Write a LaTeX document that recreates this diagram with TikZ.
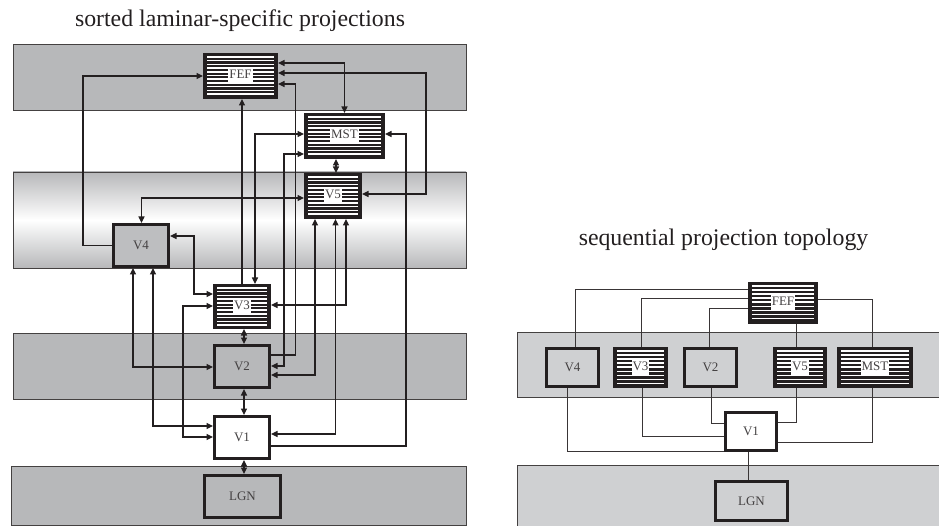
\documentclass[tikz,border=0pt]{standalone}
\usepackage{fontspec}
\setmainfont{Liberation Serif}
\usetikzlibrary{arrows.meta,calc}
\definecolor{bandL}{HTML}{B7B8BA}
\definecolor{bandR}{HTML}{CFD0D2}
\definecolor{boxL}{HTML}{BDBEC0}
\definecolor{ink}{HTML}{231F20}
\newcommand{\whitelab}[1]{{\setlength{\fboxsep}{1pt}\colorbox{white}{\strut #1}}}
\begin{document}
\begin{tikzpicture}[x=1pt,y=-1pt,
  band/.style={draw=ink!85, line width=0.9pt},
  area/.style={rectangle, draw=ink, line width=3pt, inner sep=0pt,
    font=\fontsize{13}{14}\selectfont, text=ink!85},
  areaR/.style={area, line width=2.6pt},
  striped/.style 2 args={fill=ink, path picture={
    \foreach \k in {0,...,#1} {
      \draw[white, line width=1.5pt]
        ([xshift=2.5pt, yshift=-2.5pt-\k*#2pt]path picture bounding box.north west) --
        ([xshift=-2.5pt, yshift=-2.5pt-\k*#2pt]path picture bounding box.north east);
    }}},
  conn/.style={draw=ink, line width=1.1pt},
  arr/.style={conn, -{Triangle[length=6.5pt,width=6pt]}},
  darr/.style={conn, {Triangle[length=6.5pt,width=6pt]}-{Triangle[length=6.5pt,width=6pt]}},
  connR/.style={draw=ink!90, line width=0.9pt},
  title/.style={font=\fontsize{23.8}{26}\selectfont, text=ink, anchor=base, inner sep=0pt},
]
\useasboundingbox (0,0) rectangle (939,526);
\fill[white] (0,0) rectangle (939,526);

% ---------- titles
\node[title] (t1) at (240,27) {sorted laminar-specific projections};
\node[title] (t2) at (723.5,246) {sequential projection topology};

% ---------- left bands
\draw[band, fill=bandL] (13,44) rectangle (466,110);
\shade[top color=bandL, bottom color=bandL, middle color=white] (13,172) rectangle (466,268);
\draw[band] (13,172) rectangle (466,268);
\draw[band, fill=bandL] (13,333) rectangle (466,399);
\draw[band, fill=bandL] (11,466) rectangle (466,525);

% ---------- right bands
\fill[bandR] (517,332) rectangle (939,397);
\draw[band] (939,332) -- (517,332) -- (517,397) -- (939,397);
\fill[bandR] (517,465) rectangle (939,526);
\draw[band] (939,465) -- (517,465) -- (517,526);

% ---------- left nodes
\node[area, striped={10}{3.7}, minimum width=72pt, minimum height=43pt] (fef) at (240.5,76) {\whitelab{FEF}};
\node[area, striped={10}{3.7}, minimum width=78pt, minimum height=43pt] (mst) at (344.5,136) {\whitelab{MST}};
\node[area, striped={10}{3.7}, minimum width=55pt, minimum height=43pt] (v5) at (333,196) {\whitelab{V5}};
\node[area, fill=boxL, minimum width=55pt, minimum height=42pt] (v4) at (141,245.5) {V4};
\node[area, striped={10}{3.7}, minimum width=55pt, minimum height=42pt] (v3) at (242,306.5) {\whitelab{V3}};
\node[area, fill=bandL, minimum width=55pt, minimum height=42pt] (v2) at (242,366.5) {V2};
\node[area, fill=white, minimum width=55pt, minimum height=42pt] (v1) at (242,437.5) {V1};
\node[area, fill=bandL, minimum width=76pt, minimum height=42pt] (lgn) at (242.5,496.5) {LGN};

% ---------- left connectors
\draw[arr] (v4.west) -- (83,245.5) |- (fef.west);
\draw[darr] (fef.east |- 0,63) -| (mst.north);
\draw[darr] (fef.east |- 0,73) -- (426,73) |- (v5.east |- 0,194);
\draw[arr] (v2.east |- 0,355) -- (295.5,355) |- (fef.east |- 0,84);
\draw[arr] (v3.north) -- (fef.south -| v3.north);
\draw[darr] (mst.west |- 0,134) -| (v3.north -| 255,0);
\draw[darr] (mst.west |- 0,154) -| (284,366) -- (v2.east |- 0,366);
\draw[arr] (v1.east |- 0,446) -| (406,134) -- (mst.east |- 0,134);
\draw[darr] (mst.south -| 336,0) -- (v5.north -| 336,0);
\draw[darr] (v5.west |- 0,198) -| (v4.north -| 141.5,0);
\draw[darr] (v2.east |- 0,375) -| (v5.south -| 315,0);
\draw[darr] (v1.east |- 0,434) -| (v5.south -| 335.5,0);
\draw[darr] (v3.east |- 0,305) -| (v5.south -| 346,0);
\draw[darr] (v4.east |- 0,236) -- (194,236) |- (v3.west |- 0,294);
\draw[darr] (v4.south -| 133,0) |- (v2.west |- 0,367);
\draw[darr] (v4.south -| 153,0) |- (v1.west |- 0,426);
\draw[darr] (v3.west |- 0,306) -- (183,306) |- (v1.west |- 0,437);
\draw[darr] (v3.south -| 244,0) -- (v2.north -| 244,0);
\draw[darr] (v2.south -| 244,0) -- (v1.north -| 244,0);
\draw[darr] (v1.south -| 244,0) -- (lgn.north -| 244,0);

% ---------- right nodes
\node[areaR, striped={8}{4.1}, minimum width=67.4pt, minimum height=39.4pt] (rfef) at (783,303) {\whitelab{FEF}};
\node[areaR, fill=bandR, minimum width=52.4pt, minimum height=38.4pt] (rv4) at (572.5,367.5) {V4};
\node[areaR, striped={8}{4.1}, minimum width=52.4pt, minimum height=38.4pt] (rv3) at (640.5,367.5) {\whitelab{V3}};
\node[areaR, fill=bandR, minimum width=52.4pt, minimum height=38.4pt] (rv2) at (710.5,367.5) {V2};
\node[areaR, striped={8}{4.1}, minimum width=51.4pt, minimum height=38.4pt] (rv5) at (800,367.5) {\whitelab{V5}};
\node[areaR, striped={8}{4.1}, minimum width=73.4pt, minimum height=38.4pt] (rmst) at (875,367.5) {\whitelab{MST}};
\draw[ink, line width=2pt] ([yshift=-1.2pt]rmst.north west) -- ([yshift=-1.2pt]rmst.north east);
\node[areaR, fill=white, minimum width=51.4pt, minimum height=38.4pt] (rv1) at (751,431.5) {V1};
\node[areaR, fill=bandR, minimum width=72.4pt, minimum height=39.4pt] (rlgn) at (751.5,501) {LGN};

% ---------- right connectors
\draw[connR] (rfef.west |- 0,289) -| (rv4.north -| 575,0);
\draw[connR] (rfef.west |- 0,298) -| (rv3.north -| 641,0);
\draw[connR] (rfef.west |- 0,308) -| (rv2.north -| 709,0);
\draw[connR] (rfef.south -| 796,0) -- (rv5.north -| 796,0);
\draw[connR] (rfef.east |- 0,299) -| (rmst.north -| 872,0);
\draw[connR] (rv4.south -| 567,0) |- (rv1.west |- 0,451);
\draw[connR] (rv3.south -| 642,0) |- (rv1.west |- 0,436);
\draw[connR] (rv2.south -| 711,0) |- (rv1.west |- 0,423);
\draw[connR] (rv5.south -| 796,0) |- (rv1.east |- 0,422);
\draw[connR] (rmst.south -| 872,0) |- (rv1.east |- 0,442);
\draw[connR] (rv1.south -| 748,0) -- (rlgn.north -| 748,0);
\end{tikzpicture}
\end{document}
